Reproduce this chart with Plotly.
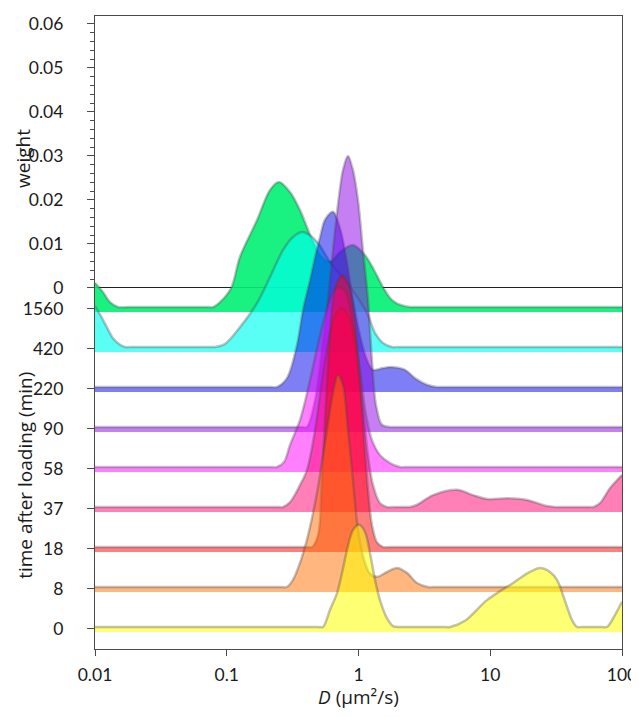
import plotly.graph_objects as go

# ---- data (D in um^2/s, weight) ----
time_labels = ["1560", "420", "220", "90", "58", "37", "18", "8", "0"]

D_1560 = [0.01, 0.0115, 0.013, 0.015, 0.018, 0.07, 0.0787, 0.0889, 0.108, 0.126, 0.170, 0.213, 0.249, 0.302, 0.360, 0.429, 0.511, 0.608, 0.724, 0.908, 1.119, 1.334, 1.535, 1.795, 2.065, 2.46, 2.9, 100]
W_1560 = [0.0055, 0.0034, 0.0011, 0, 0, 0, 0, 0.0011, 0.0043, 0.0114, 0.0198, 0.0266, 0.0284, 0.0261, 0.0220, 0.0164, 0.0118, 0.0102, 0.0125, 0.0141, 0.0118, 0.0080, 0.0045, 0.0016, 0.0005, 0, 0, 0]

D_420 = [0.01, 0.0113, 0.0123, 0.0137, 0.0155, 0.0169, 0.02, 0.072, 0.0815, 0.097, 0.126, 0.170, 0.213, 0.267, 0.318, 0.379, 0.484, 0.608, 0.791, 0.975, 1.161, 1.334, 1.535, 1.795, 2.1, 100]
W_420 = [0.0093, 0.0066, 0.0045, 0.0020, 0.0005, 0, 0, 0, 0, 0.0007, 0.0045, 0.0100, 0.0159, 0.0220, 0.0250, 0.0261, 0.0239, 0.0193, 0.0152, 0.0114, 0.0077, 0.0032, 0.0009, 0, 0, 0]

D_220 = [0.01, 0.215, 0.240, 0.286, 0.341, 0.379, 0.429, 0.468, 0.511, 0.557, 0.640, 0.724, 0.818, 0.908, 1.026, 1.161, 1.288, 1.535, 1.828, 2.254, 2.685, 3.311, 3.945, 4.6, 100]
W_220 = [0, 0, 0, 0.0020, 0.0095, 0.0175, 0.0243, 0.0295, 0.0341, 0.0380, 0.0398, 0.0361, 0.0284, 0.0198, 0.0118, 0.0061, 0.0039, 0.0043, 0.0045, 0.0039, 0.0020, 0.0005, 0, 0, 0]

D_90 = [0.01, 0.37, 0.406, 0.468, 0.528, 0.587, 0.640, 0.698, 0.762, 0.832, 0.908, 0.991, 1.081, 1.180, 1.265, 1.358, 1.507, 1.734, 2.0, 100]
W_90 = [0, 0, 0, 0.0061, 0.0175, 0.0289, 0.0402, 0.0505, 0.0584, 0.0616, 0.0584, 0.0516, 0.0402, 0.0289, 0.0152, 0.0050, 0.0005, 0, 0, 0]

D_58 = [0.01, 0.215, 0.240, 0.272, 0.302, 0.360, 0.429, 0.511, 0.608, 0.687, 0.791, 0.893, 1.026, 1.140, 1.265, 1.455, 1.734, 2.065, 2.4, 100]
W_58 = [0, 0, 0, 0.0011, 0.0050, 0.0107, 0.0198, 0.0300, 0.0380, 0.0407, 0.0398, 0.0334, 0.0220, 0.0118, 0.0061, 0.0027, 0.0009, 0, 0, 0]

D_37 = [0.01, 0.24, 0.267, 0.302, 0.360, 0.406, 0.468, 0.557, 0.664, 0.750, 0.861, 0.975, 1.081, 1.180, 1.288, 1.455, 1.644, 1.9, 2.2, 2.46, 2.78, 3.68, 5.60, 7.40, 9.44, 13.4, 19.0, 27.0, 31.0, 35.0, 55.0, 60.3, 68.1, 81.1, 100]
W_37 = [0, 0, 0, 0.0011, 0.0050, 0.0084, 0.0175, 0.0334, 0.0436, 0.0452, 0.0425, 0.0334, 0.0220, 0.0118, 0.0050, 0.0009, 0, 0, 0, 0, 0.0005, 0.0027, 0.0039, 0.0027, 0.0018, 0.0020, 0.0016, 0.0002, 0, 0, 0, 0, 0.0009, 0.0043, 0.0073]

D_18 = [0.01, 0.41, 0.444, 0.493, 0.528, 0.557, 0.597, 0.640, 0.698, 0.762, 0.847, 0.940, 1.026, 1.102, 1.180, 1.265, 1.380, 1.535, 1.75, 100]
W_18 = [0, 0, 0, 0.0027, 0.0152, 0.0289, 0.0448, 0.0561, 0.0607, 0.0618, 0.0595, 0.0516, 0.0380, 0.0243, 0.0130, 0.0050, 0.0011, 0, 0, 0]

D_8 = [0.01, 0.26, 0.286, 0.318, 0.360, 0.406, 0.452, 0.493, 0.577, 0.640, 0.698, 0.762, 0.832, 0.908, 0.991, 1.102, 1.222, 1.380, 1.644, 1.959, 2.333, 2.780, 3.373, 3.9, 100]
W_8 = [0, 0, 0, 0.0016, 0.0055, 0.0107, 0.0168, 0.0227, 0.0357, 0.0441, 0.0482, 0.0459, 0.0357, 0.0243, 0.0130, 0.0061, 0.0030, 0.0023, 0.0034, 0.0043, 0.0032, 0.0009, 0, 0, 0]

D_0 = [0.01, 0.49, 0.538, 0.608, 0.687, 0.750, 0.818, 0.908, 1.009, 1.119, 1.222, 1.334, 1.455, 1.644, 1.828, 2.065, 2.4, 4.4, 4.96, 6.43, 9.44, 14.9, 20.0, 23.9, 28.4, 32.1, 38.3, 41.7, 45.5, 50.0, 70.0, 76.9, 86.9, 100]
W_0 = [0, 0, 0, 0.0039, 0.0077, 0.0123, 0.0175, 0.0220, 0.0232, 0.0216, 0.0168, 0.0107, 0.0061, 0.0020, 0.0002, 0, 0, 0, 0, 0.0014, 0.0061, 0.0100, 0.0125, 0.0134, 0.0125, 0.0107, 0.0045, 0.0016, 0, 0, 0, 0, 0.0023, 0.0057]

weight_ticks = [0, 0.01, 0.02, 0.03, 0.04, 0.05, 0.06]
weight_labels = ["0", "0.01", "0.02", "0.03", "0.04", "0.05", "0.06"]
x_ticks = [0.01, 0.1, 1, 10, 100]
x_labels = ["0.01", "0.1", "1", "10", "100"]

# ---- styling ----
series = [
    (D_1560, W_1560, "0,240,115", 0.9),
    (D_420, W_420, "0,255,240", 0.65),
    (D_220, W_220, "0,0,235", 0.5),
    (D_90, W_90, "140,0,230", 0.5),
    (D_58, W_58, "255,0,255", 0.5),
    (D_37, W_37, "255,0,110", 0.5),
    (D_18, W_18, "255,0,0", 0.5),
    (D_8, W_8, "255,110,0", 0.5),
    (D_0, W_0, "255,255,0", 0.55),
]
ROW_TOP = -0.00432
ROW_GAP = 0.00909
FILL_DROP = 0.00114
TICK_DROP = 0.00045
TICK_FONT = "Lato, 'Open Sans', sans-serif"
TITLE_FONT = "'Open Sans', Lato, sans-serif"
AX = "#4a4a4a"

fig = go.Figure()
row_ticks = []
for i, (d, w, rgb, alpha) in enumerate(series):
    zero = ROW_TOP - i * ROW_GAP
    base = zero - FILL_DROP
    row_ticks.append(zero - TICK_DROP)
    ys = [zero + v for v in w]
    fig.add_trace(go.Scatter(x=[0.01, 100], y=[base, base], mode="lines",
                             line=dict(width=0), hoverinfo="skip", showlegend=False))
    fig.add_trace(go.Scatter(x=d, y=ys, mode="lines",
                             line=dict(width=0, shape="spline", smoothing=0.9),
                             fill="tonexty", fillcolor=f"rgba({rgb},{alpha})",
                             hoverinfo="skip", showlegend=False))
    fig.add_trace(go.Scatter(x=d, y=ys, mode="lines",
                             line=dict(color="rgba(70,70,70,0.33)", width=2.5,
                                       shape="spline", smoothing=0.9),
                             hoverinfo="skip", showlegend=False))

fig.update_layout(
    width=631, height=701,
    margin=dict(l=87, r=17, t=8, b=60, autoexpand=False),
    paper_bgcolor="white", plot_bgcolor="white",
    font=dict(family=TICK_FONT, size=17.5, color="#1a1a1a"),
    showlegend=False,
    xaxis=dict(type="log", range=[-2, 2], tickvals=x_ticks, ticktext=x_labels,
               ticks="outside", ticklen=6, tickcolor=AX, tickwidth=1,
               showgrid=False, zeroline=False, showline=True, linecolor=AX,
               linewidth=1.2, mirror=True, ticklabelstandoff=4, automargin=False),
    yaxis=dict(range=[-0.08205, 0.0618],
               tickvals=weight_ticks + row_ticks,
               ticktext=weight_labels + time_labels,
               ticks="outside", ticklen=7, tickcolor=AX, tickwidth=1,
               minor=dict(tickvals=[round(0.002 * k, 3) for k in range(31) if k % 5],
                          ticks="outside", ticklen=4, tickcolor=AX, tickwidth=1,
                          showgrid=False),
               showgrid=False, zeroline=True, zerolinecolor="#222",
               zerolinewidth=1, showline=True, linecolor=AX, linewidth=1.2,
               mirror=True, ticklabelstandoff=20, automargin=False),
    annotations=[
        dict(text="weight", xref="paper", yref="y", x=0, y=0.0293, xshift=-72,
             xanchor="center", yanchor="middle", textangle=-90, showarrow=False,
             font=dict(family=TITLE_FONT, size=19)),
        dict(text="time after loading (min)", xref="paper", yref="y", x=0,
             y=-0.0427, xshift=-70, xanchor="center", yanchor="middle",
             textangle=-90, showarrow=False, font=dict(family=TITLE_FONT, size=19)),
        dict(text="<i>D</i> (μm²/s)", xref="paper", yref="paper",
             x=0.5, y=0, yshift=-48, xanchor="center", yanchor="middle",
             showarrow=False, font=dict(family=TITLE_FONT, size=19)),
    ],
)

fig.write_html("out.html")
